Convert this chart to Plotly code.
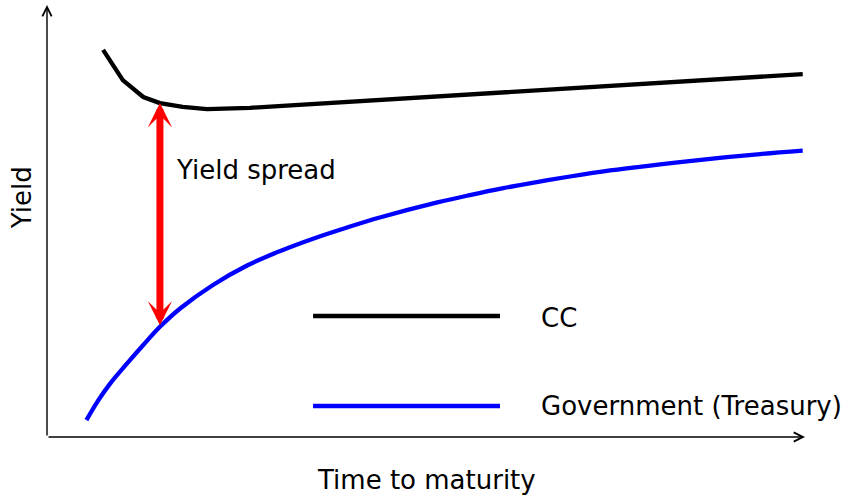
import numpy as np
import plotly.graph_objects as go

# ---- data (arbitrary units: time 0-100, yield 0-100) ----
cc_time = [7.4, 10.0, 12.7, 14.9, 17.9, 21.1, 26.8, 33.4, 38.7, 51.9, 65.0, 79.2, 99.7]
cc_yield = [89.6, 82.6, 78.7, 77.3, 76.4, 75.9, 76.2, 76.9, 77.4, 78.8, 80.2, 81.7, 84.0]

gov_time = [5.2, 6.7, 8.3, 10.6, 12.7, 14.9, 17.6, 21.9, 26.4, 30.7, 35.1, 39.6, 43.9,
            51.5, 55.8, 60.2, 64.6, 69.0, 74.3, 80.9, 87.5, 94.1, 99.7]
gov_yield = [3.9, 8.3, 12.3, 17.1, 21.3, 25.5, 29.8, 35.2, 39.7, 43.0, 45.9, 48.5, 50.8,
             54.3, 56.0, 57.6, 59.0, 60.3, 61.7, 63.1, 64.4, 65.5, 66.3]

series_names = ["CC", "Government (Treasury)"]
series_colors = ["black", "blue"]
spread_label = "Yield spread"
spread_time = 14.9
x_title = "Time to maturity"
y_title = "Yield"

FONT = "DejaVu Sans"
FS = 26

spread_top = float(np.interp(spread_time, cc_time, cc_yield))
spread_bottom = float(np.interp(spread_time, gov_time, gov_yield))

fig = go.Figure()
fig.add_trace(go.Scatter(x=cc_time, y=cc_yield, mode="lines", name=series_names[0],
                         line=dict(color=series_colors[0], width=4.3), showlegend=False))
fig.add_trace(go.Scatter(x=gov_time, y=gov_yield, mode="lines", name=series_names[1],
                         line=dict(color=series_colors[1], width=4.3, shape="spline"),
                         showlegend=False))

txt_font = dict(family=FONT, size=FS, color="black")
annotations = []
# axes arrows
annotations.append(dict(x=1.0, y=0, xref="x domain", yref="y domain",
                        ax=0, ay=0, axref="x domain", ayref="y domain",
                        text="", showarrow=True, arrowhead=5, arrowsize=1.3,
                        arrowwidth=1.4, arrowcolor="black"))
annotations.append(dict(x=0, y=1.0, xref="x domain", yref="y domain",
                        ax=0, ay=0, axref="x domain", ayref="y domain",
                        text="", showarrow=True, arrowhead=5, arrowsize=1.3,
                        arrowwidth=1.4, arrowcolor="black"))
# spread double arrow
annotations.append(dict(x=spread_time, y=spread_top, xref="x", yref="y",
                        ax=spread_time, ay=spread_bottom, axref="x", ayref="y",
                        text="", showarrow=True, arrowside="end+start",
                        arrowhead=3, startarrowhead=3, arrowsize=0.58, startarrowsize=0.58,
                        arrowwidth=7, arrowcolor="red"))
annotations.append(dict(x=0.1675, y=0.617, xref="paper", yref="paper",
                        xanchor="left", yanchor="middle", text=spread_label,
                        showarrow=False, font=txt_font))
# legend text
legend_y = [0.2755, 0.0718]
for name, ly in zip(series_names, legend_y):
    annotations.append(dict(x=0.6485, y=ly, xref="paper", yref="paper",
                            xanchor="left", yanchor="middle", text=name,
                            showarrow=False, font=txt_font))
# axis titles
annotations.append(dict(x=0.5013, y=-0.0995, xref="paper", yref="paper",
                        xanchor="center", yanchor="middle", text=x_title,
                        showarrow=False, font=txt_font))
annotations.append(dict(x=-0.033, y=0.555, xref="paper", yref="paper",
                        xanchor="center", yanchor="middle", text=y_title, textangle=-90,
                        showarrow=False, font=txt_font))

shapes = []
legend_line_y = [0.2801, 0.0718]
for col, ly in zip(series_colors, legend_line_y):
    shapes.append(dict(type="line", xref="paper", yref="paper", x0=0.351, x1=0.5976,
                       y0=ly, y1=ly, line=dict(color=col, width=4.3)))

fig.update_layout(
    width=843, height=496,
    margin=dict(l=47, r=38, t=5, b=59, autoexpand=False),
    paper_bgcolor="white", plot_bgcolor="white",
    annotations=annotations, shapes=shapes,
    font=txt_font,
    xaxis=dict(range=[0, 100], showgrid=False, zeroline=False, showline=False,
               showticklabels=False, ticks="", automargin=False),
    yaxis=dict(range=[0, 100], showgrid=False, zeroline=False, showline=False,
               showticklabels=False, ticks="", automargin=False),
)

fig.write_html("out.html", config={"displayModeBar": False},
               post_script="document.body.style.margin='0';document.body.style.overflow='hidden';")
